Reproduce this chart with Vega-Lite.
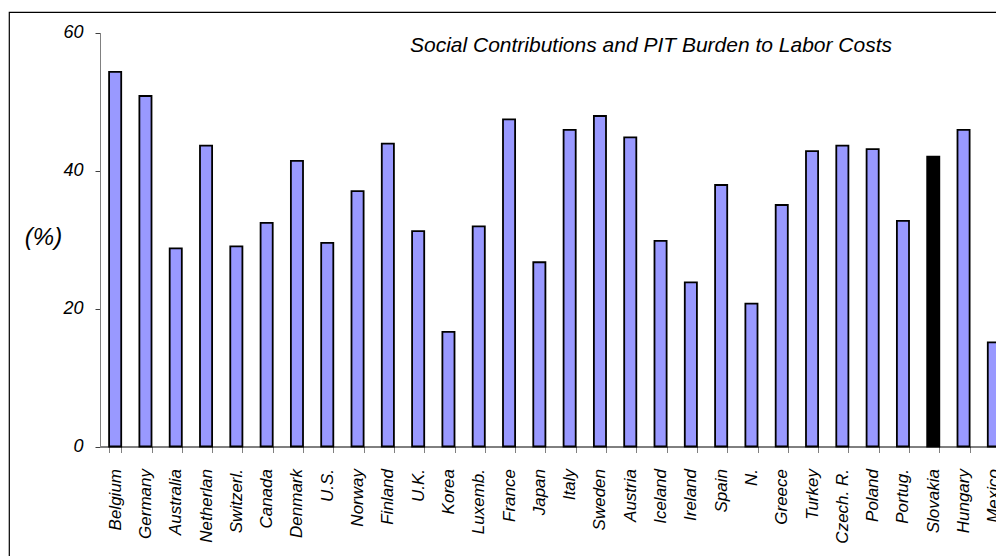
{
  "$schema": "https://vega.github.io/schema/vega-lite/v6.json",
  "autosize": {"type": "none"},
  "padding": {"left": 9, "top": 12, "right": 0, "bottom": 0},
  "width": 1000,
  "height": 560,
  "background": "white",
  "config": {
    "font": "Liberation Sans",
    "view": {"stroke": "black", "strokeWidth": 1.2, "fill": "white"}
  },
  "title": {
    "text": "Social Contributions and PIT Burden to Labor Costs",
    "anchor": "start",
    "frame": "group",
    "align": "center",
    "baseline": "alphabetic",
    "dx": 642,
    "offset": -61,
    "fontSize": 21,
    "fontStyle": "italic",
    "fontWeight": "normal",
    "font": "Liberation Sans",
    "color": "black"
  },
  "data": {
    "values": [
      {"country": "Belgium", "value": 54.3},
      {"country": "Germany", "value": 50.8},
      {"country": "Australia", "value": 28.7},
      {"country": "Netherlan", "value": 43.6},
      {"country": "Switzerl.", "value": 29.0},
      {"country": "Canada", "value": 32.4},
      {"country": "Denmark", "value": 41.4},
      {"country": "U.S.", "value": 29.5},
      {"country": "Norway", "value": 37.0},
      {"country": "Finland", "value": 43.9},
      {"country": "U.K.", "value": 31.2},
      {"country": "Korea", "value": 16.6},
      {"country": "Luxemb.", "value": 31.9},
      {"country": "France", "value": 47.4},
      {"country": "Japan", "value": 26.7},
      {"country": "Italy", "value": 45.9},
      {"country": "Sweden", "value": 47.9},
      {"country": "Austria", "value": 44.8},
      {"country": "Iceland", "value": 29.8},
      {"country": "Ireland", "value": 23.8},
      {"country": "Spain", "value": 37.9},
      {"country": "N.", "value": 20.7},
      {"country": "Greece", "value": 35.0},
      {"country": "Turkey", "value": 42.8},
      {"country": "Czech. R.", "value": 43.6},
      {"country": "Poland", "value": 43.1},
      {"country": "Portug.", "value": 32.7},
      {"country": "Slovakia", "value": 42.0},
      {"country": "Hungary", "value": 45.9},
      {"country": "Mexico", "value": 15.1}
    ]
  },
  "mark": {"type": "bar", "stroke": "black", "strokeWidth": 1.8},
  "encoding": {
    "x": {
      "field": "country",
      "type": "nominal",
      "sort": null,
      "scale": {"range": [91, 1000], "paddingInner": 0.6, "paddingOuter": 0.3},
      "axis": {
        "title": null,
        "offset": -125.5,
        "tickBand": "extent",
        "labelAngle": -90,
        "labelAlign": "right",
        "labelBaseline": "middle",
        "labelFontSize": 17,
        "labelFontStyle": "italic",
        "labelFont": "Liberation Sans",
        "labelColor": "black",
        "labelPadding": 16,
        "labelOverlap": false,
        "labelLimit": 0,
        "tickSize": 6,
        "tickColor": "#808080",
        "domainColor": "black",
        "grid": false
      }
    },
    "y": {
      "field": "value",
      "type": "quantitative",
      "scale": {"domain": [0, 60], "range": [434.5, 20.5], "nice": false, "zero": true},
      "axis": {
        "values": [0, 20, 40, 60],
        "offset": -91,
        "title": "(%)",
        "titleAngle": 0,
        "titleX": -57,
        "titleY": 225.5,
        "titleAlign": "center",
        "titleBaseline": "middle",
        "titleFontSize": 24,
        "titleFontStyle": "italic",
        "titleFontWeight": "normal",
        "titleFont": "Liberation Sans",
        "titleColor": "black",
        "labelFontSize": 18,
        "labelFontStyle": "italic",
        "labelFont": "Liberation Sans",
        "labelColor": "black",
        "labelPadding": 12,
        "tickSize": 5,
        "tickColor": "#404040",
        "domainColor": "#808080",
        "grid": false
      }
    },
    "color": {
      "condition": {"test": "datum.country === 'Slovakia'", "value": "#000000"},
      "value": "#9999FF"
    }
  }
}
